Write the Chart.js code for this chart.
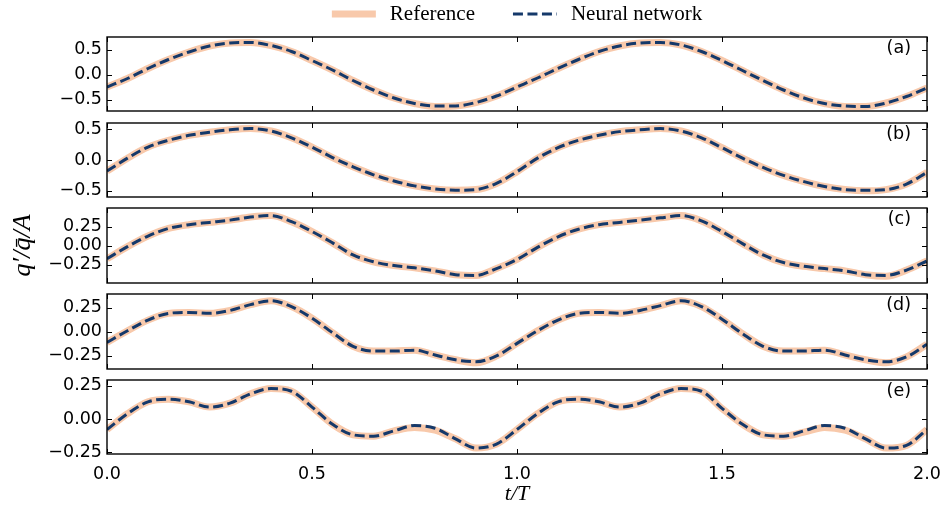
<!DOCTYPE html>
<html>
<head>
<meta charset="utf-8">
<script src="https://cdn.jsdelivr.net/npm/chart.js@4.4.0/dist/chart.umd.min.js"></script>
<style>
    body { margin: 0; background: #fff; }
    #figure { position: relative; width: 944px; height: 512px; }
    #figure canvas { position: absolute; left: 0; }
</style>
</head>
<body>
<div id="figure">
    <canvas id="panel_a" width="944" height="116" style="top:0px"></canvas>
    <canvas id="panel_b" width="944" height="84" style="top:118px"></canvas>
    <canvas id="panel_c" width="944" height="85" style="top:203px"></canvas>
    <canvas id="panel_d" width="944" height="85" style="top:289px"></canvas>
    <canvas id="panel_e" width="944" height="137" style="top:375px"></canvas>
</div>
<script>
// t/T sample points (two periods)
const tValues = [0, 0.05, 0.1, 0.15, 0.2, 0.25, 0.3, 0.35, 0.4, 0.45, 0.5, 0.55, 0.6, 0.65, 0.7, 0.75, 0.8, 0.85, 0.9, 0.95,
    1.0, 1.05, 1.1, 1.15, 1.2, 1.25, 1.3, 1.35, 1.4, 1.45, 1.5, 1.55, 1.6, 1.65, 1.7, 1.75, 1.8, 1.85, 1.9, 1.95, 2.0];

const xTickValues = [0, 0.5, 1.0, 1.5, 2.0];
const yTicksAB = [-0.5, 0, 0.5];
const yTicksCDE = [-0.25, 0, 0.25];

// (a)
const refA = [-0.25, -0.08, 0.12, 0.30, 0.45, 0.57, 0.63, 0.64, 0.58, 0.46, 0.28, 0.09, -0.12, -0.31, -0.47, -0.58, -0.64, -0.63, -0.56, -0.43,
    -0.25, -0.07, 0.12, 0.30, 0.46, 0.57, 0.63, 0.64, 0.59, 0.46, 0.28, 0.08, -0.12, -0.31, -0.47, -0.58, -0.64, -0.64, -0.57, -0.44, -0.27];
const nnA = [-0.25, -0.08, 0.12, 0.30, 0.45, 0.57, 0.63, 0.64, 0.58, 0.46, 0.28, 0.09, -0.12, -0.31, -0.47, -0.58, -0.63, -0.63, -0.56, -0.43,
    -0.25, -0.07, 0.12, 0.30, 0.46, 0.57, 0.63, 0.64, 0.59, 0.46, 0.28, 0.08, -0.12, -0.31, -0.47, -0.58, -0.63, -0.64, -0.57, -0.44, -0.27];

// (b)
const refB = [-0.18, 0.03, 0.21, 0.32, 0.40, 0.45, 0.49, 0.51, 0.47, 0.36, 0.21, 0.04, -0.11, -0.24, -0.34, -0.42, -0.47, -0.49, -0.48, -0.38,
    -0.19, 0.03, 0.20, 0.32, 0.40, 0.46, 0.49, 0.51, 0.47, 0.36, 0.20, 0.03, -0.12, -0.25, -0.35, -0.43, -0.48, -0.50, -0.48, -0.39, -0.20];
const nnB = [-0.18, 0.03, 0.21, 0.32, 0.40, 0.45, 0.49, 0.51, 0.47, 0.36, 0.21, 0.04, -0.11, -0.24, -0.34, -0.42, -0.47, -0.49, -0.48, -0.38,
    -0.19, 0.03, 0.20, 0.32, 0.40, 0.46, 0.49, 0.51, 0.47, 0.36, 0.20, 0.03, -0.12, -0.25, -0.35, -0.43, -0.48, -0.49, -0.48, -0.39, -0.20];

// (c)
const refC = [-0.17, -0.01, 0.13, 0.23, 0.28, 0.31, 0.34, 0.38, 0.40, 0.32, 0.19, 0.04, -0.12, -0.21, -0.26, -0.29, -0.33, -0.38, -0.39, -0.30,
    -0.18, -0.02, 0.12, 0.22, 0.28, 0.31, 0.34, 0.37, 0.40, 0.33, 0.19, 0.03, -0.12, -0.22, -0.27, -0.30, -0.33, -0.38, -0.40, -0.32, -0.20];
const nnC = [-0.17, -0.01, 0.13, 0.23, 0.28, 0.31, 0.34, 0.38, 0.40, 0.32, 0.19, 0.04, -0.12, -0.21, -0.26, -0.29, -0.33, -0.38, -0.39, -0.30,
    -0.18, -0.02, 0.12, 0.22, 0.28, 0.31, 0.34, 0.37, 0.40, 0.33, 0.19, 0.03, -0.12, -0.22, -0.27, -0.30, -0.33, -0.38, -0.39, -0.32, -0.20];

// (d)
const refD = [-0.11, 0.01, 0.12, 0.19, 0.20, 0.19, 0.22, 0.28, 0.32, 0.26, 0.14, -0.01, -0.15, -0.20, -0.20, -0.19, -0.24, -0.29, -0.32, -0.25,
    -0.12, 0.01, 0.12, 0.19, 0.20, 0.19, 0.22, 0.27, 0.32, 0.26, 0.13, -0.02, -0.15, -0.20, -0.20, -0.19, -0.24, -0.29, -0.32, -0.26, -0.13];
const nnD = [-0.11, 0.01, 0.12, 0.19, 0.20, 0.19, 0.22, 0.28, 0.32, 0.26, 0.14, -0.01, -0.15, -0.20, -0.20, -0.19, -0.24, -0.29, -0.31, -0.25,
    -0.12, 0.01, 0.12, 0.19, 0.20, 0.19, 0.22, 0.27, 0.32, 0.26, 0.13, -0.02, -0.15, -0.20, -0.20, -0.19, -0.24, -0.29, -0.31, -0.26, -0.13];

// (e)
const refE = [-0.08, 0.04, 0.13, 0.15, 0.13, 0.09, 0.12, 0.19, 0.23, 0.21, 0.09, -0.04, -0.12, -0.13, -0.09, -0.065, -0.085, -0.15, -0.22, -0.19,
    -0.08, 0.04, 0.13, 0.15, 0.13, 0.09, 0.12, 0.19, 0.23, 0.21, 0.08, -0.04, -0.12, -0.13, -0.10, -0.065, -0.085, -0.15, -0.22, -0.20, -0.08];
const nnE = [-0.08, 0.04, 0.13, 0.15, 0.13, 0.09, 0.12, 0.19, 0.23, 0.21, 0.09, -0.04, -0.12, -0.13, -0.09, -0.05, -0.07, -0.15, -0.22, -0.19,
    -0.08, 0.04, 0.13, 0.15, 0.13, 0.09, 0.12, 0.19, 0.23, 0.21, 0.08, -0.04, -0.12, -0.13, -0.09, -0.05, -0.07, -0.15, -0.22, -0.20, -0.08];

const refColor = '#f8c9ab';
const nnColor = '#15396a';

Chart.defaults.font.family = 'DejaVu Sans';
Chart.defaults.font.size = 17.5;
Chart.defaults.color = '#000';

// frame around the axes plus inward ticks on all four sides
const boxAndTicks = {
    id: 'boxAndTicks',
    afterDatasetsDraw(chart) {
        const {ctx, chartArea: {left, right, top, bottom}, scales: {x, y}} = chart;
        ctx.save();
        ctx.strokeStyle = '#000';
        ctx.lineWidth = 1;
        ctx.beginPath();
        x.ticks.forEach(function (tick) {
            const px = Math.round(x.getPixelForValue(tick.value)) + 0.5;
            ctx.moveTo(px, bottom);
            ctx.lineTo(px, bottom - 5);
            ctx.moveTo(px, top);
            ctx.lineTo(px, top + 5);
        });
        y.ticks.forEach(function (tick) {
            const py = Math.round(y.getPixelForValue(tick.value)) + 0.5;
            ctx.moveTo(left, py);
            ctx.lineTo(left + 5, py);
            ctx.moveTo(right, py);
            ctx.lineTo(right - 5, py);
        });
        ctx.stroke();
        ctx.lineWidth = 1.4;
        ctx.strokeRect(left, top, right - left, bottom - top);
        ctx.restore();
    }
};

const panelTag = {
    id: 'panelTag',
    afterDraw(chart, args, opts) {
        const {ctx, chartArea} = chart;
        ctx.save();
        ctx.font = '17.5px "DejaVu Sans"';
        ctx.fillStyle = '#000';
        ctx.textAlign = 'right';
        ctx.textBaseline = 'middle';
        ctx.fillText(opts.text, chartArea.right - 16, chartArea.top + 11);
        ctx.restore();
    }
};

const lineLegend = {
    id: 'lineLegend',
    afterDraw(chart, args, opts) {
        const {ctx, chartArea} = chart;
        if (!opts.show) {
            return;
        }
        ctx.save();
        ctx.font = opts.font;
        // legend order follows the dataset list
        const items = chart.data.datasets.map(function (ds) {
            return {ds: ds, w: ctx.measureText(ds.label).width};
        });
        let total = opts.itemGap * (items.length - 1);
        items.forEach(function (it) {
            total += opts.sampleWidth + opts.textGap + it.w;
        });
        let x = (chartArea.left + chartArea.right) / 2 - total / 2;
        const y = opts.y;
        items.forEach(function (it) {
            ctx.strokeStyle = it.ds.borderColor;
            ctx.lineWidth = it.ds.borderWidth;
            ctx.setLineDash(it.ds.borderDash || []);
            ctx.beginPath();
            ctx.moveTo(x, y);
            ctx.lineTo(x + opts.sampleWidth, y);
            ctx.stroke();
            x += opts.sampleWidth + opts.textGap;
            ctx.setLineDash([]);
            ctx.fillStyle = '#000';
            ctx.textAlign = 'left';
            ctx.textBaseline = 'middle';
            ctx.fillText(it.ds.label, x, y);
            x += it.w + opts.itemGap;
        });
        ctx.restore();
    }
};

function toPoints(values) {
    return tValues.map(function (t, i) {
        return {x: t, y: values[i]};
    });
}

function formatTick(value, digits) {
    return value.toFixed(digits).replace('-', '\u2212');
}

function renderPanel(id, tag, ref, nn, yMin, yMax, yTicks, digits, settings) {
    const ctx = document.getElementById(id).getContext('2d');
    const isBottom = settings.bottom;
    return new Chart(ctx, {
        type: 'line',
        data: {
            datasets: [{
                label: 'Reference',
                data: toPoints(ref),
                borderColor: refColor,
                backgroundColor: refColor,
                borderWidth: 7,
                pointRadius: 0,
                order: 1,
                cubicInterpolationMode: 'monotone'
            }, {
                label: 'Neural network',
                data: toPoints(nn),
                borderColor: nnColor,
                backgroundColor: nnColor,
                borderWidth: 3,
                borderDash: [10, 4.5],
                pointRadius: 0,
                order: 0,
                cubicInterpolationMode: 'monotone'
            }]
        },
        options: {
            responsive: false,
            animation: false,
            layout: {padding: {top: settings.padTop, bottom: settings.padBottom, left: 0, right: 17}},
            scales: {
                x: {
                    type: 'linear',
                    min: 0,
                    max: 2,
                    grid: {display: false, drawTicks: false},
                    border: {display: false},
                    afterBuildTicks: function (scale) {
                        scale.ticks = xTickValues.map(function (v) { return {value: v}; });
                    },
                    afterFit: function (scale) {
                        scale.height = isBottom ? 58 : 0;
                        scale.paddingLeft = 0;
                        scale.paddingRight = 0;
                    },
                    ticks: {
                        display: isBottom,
                        padding: 10,
                        maxRotation: 0,
                        callback: function (value) { return formatTick(value, 1); }
                    },
                    title: {
                        display: isBottom,
                        text: 't/T',
                        font: {family: 'Liberation Serif', style: 'italic', size: 22},
                        padding: {top: 0, bottom: 5}
                    }
                },
                y: {
                    min: yMin,
                    max: yMax,
                    grid: {display: false, drawTicks: false},
                    border: {display: false},
                    afterBuildTicks: function (scale) {
                        scale.ticks = yTicks.map(function (v) { return {value: v}; });
                    },
                    afterFit: function (scale) {
                        scale.width = 107;
                        scale.paddingTop = 0;
                        scale.paddingBottom = 0;
                    },
                    ticks: {
                        padding: 5,
                        callback: function (value) { return formatTick(value, digits); }
                    },
                    title: {
                        display: settings.yTitle,
                        text: 'q\u2032/q\u0304/A',
                        font: {family: 'Liberation Serif', style: 'italic', size: 26},
                        padding: {top: 8, bottom: 0}
                    }
                }
            },
            plugins: {
                legend: {display: false},
                tooltip: {enabled: false},
                panelTag: {text: tag},
                lineLegend: {
                    show: settings.legend,
                    font: '21px "Liberation Serif"',
                    sampleWidth: 44,
                    textGap: 14,
                    itemGap: 38,
                    y: 14
                }
            }
        },
        plugins: [boxAndTicks, panelTag, lineLegend]
    });
}

renderPanel('panel_a', '(a)', refA, nnA, -0.73, 0.75, yTicksAB, 1, {padTop: 37, padBottom: 5, legend: true, yTitle: false, bottom: false});
renderPanel('panel_b', '(b)', refB, nnB, -0.60, 0.60, yTicksAB, 1, {padTop: 5, padBottom: 5, legend: false, yTitle: false, bottom: false});
renderPanel('panel_c', '(c)', refC, nnC, -0.49, 0.50, yTicksCDE, 2, {padTop: 5, padBottom: 5, legend: false, yTitle: true, bottom: false});
renderPanel('panel_d', '(d)', refD, nnD, -0.385, 0.39, yTicksCDE, 2, {padTop: 5, padBottom: 5, legend: false, yTitle: false, bottom: false});
renderPanel('panel_e', '(e)', refE, nnE, -0.265, 0.295, yTicksCDE, 2, {padTop: 5, padBottom: 0, legend: false, yTitle: false, bottom: true});
</script>
</body>
</html>
